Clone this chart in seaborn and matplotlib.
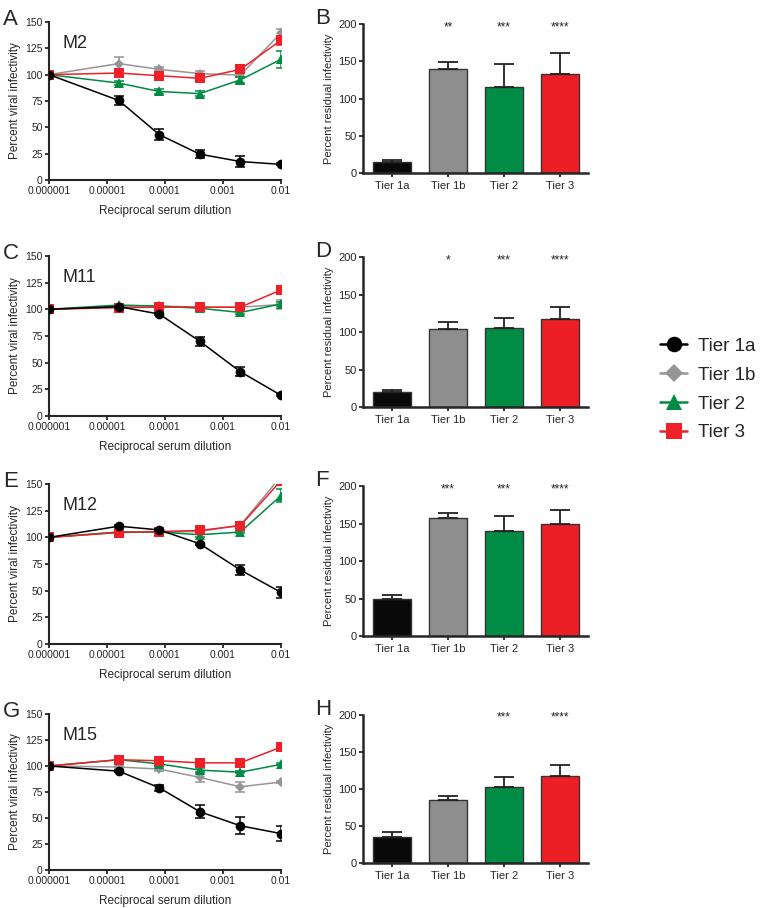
import matplotlib
matplotlib.use("Agg")
import matplotlib.pyplot as plt
from matplotlib.lines import Line2D
import seaborn as sns

sns.set_style("ticks")
plt.rcParams['font.family'] = ['Liberation Sans', 'DejaVu Sans']

# reciprocal serum dilutions (first point = no-serum control)
dilution = [1e-6, 1.6e-5, 8e-5, 4e-4, 2e-3, 1e-2]
tiers = ["Tier 1a", "Tier 1b", "Tier 2", "Tier 3"]

# M2
m2_t1a = [100, 75.5, 43, 24.5, 17.5, 14.8]
m2_t1a_err = [0, 4, 5, 4, 5, 1]
m2_t1b = [100, 110.5, 105, 101, 99.5, 139.5]
m2_t1b_err = [0, 6, 2, 2, 2, 4]
m2_t2 = [100, 92, 84, 82, 95, 114.5]
m2_t2_err = [0, 2, 2, 2, 3, 8]
m2_t3 = [100, 101.5, 99, 96.5, 105, 132.5]
m2_t3_err = [0, 2, 2, 2, 3, 4]

# M11
m11_t1a = [100, 102.5, 95.5, 70, 41.5, 19.5]
m11_t1a_err = [0, 1, 1, 4, 4, 1]
m11_t1b = [100, 103, 103, 102, 102, 104.5]
m11_t1b_err = [0, 1, 1, 1, 1, 4]
m11_t2 = [100, 104, 103, 101, 97, 105]
m11_t2_err = [0, 1, 1, 1, 1, 2]
m11_t3 = [100, 101.5, 102, 102, 102, 118]
m11_t3_err = [0, 1, 1, 1, 1, 2]

# M12 (Tier 1b and Tier 3 end above the axis)
m12_t1a = [100, 110.5, 107, 94, 69.5, 48.5]
m12_t1a_err = [0, 1, 1, 1, 5, 5]
m12_t1b = [100, 105, 105, 105.5, 111.5, 157]
m12_t1b_err = [0, 1, 1, 1, 1, 0]
m12_t2 = [100, 105, 105, 102.5, 105, 139]
m12_t2_err = [0, 1, 1, 2, 1, 6]
m12_t3 = [100, 104.5, 105.5, 106.5, 111, 153]
m12_t3_err = [0, 1, 1, 2, 1, 0]

# M15
m15_t1a = [100, 95, 79, 56, 42.5, 35]
m15_t1a_err = [0, 1, 3, 6, 8, 7]
m15_t1b = [100, 99, 97, 89, 80, 84.5]
m15_t1b_err = [0, 1, 2, 4, 5, 1]
m15_t2 = [100, 106, 102, 96, 94, 101.5]
m15_t2_err = [0, 1, 2, 2, 1, 1]
m15_t3 = [100, 106, 105, 103, 103, 118]
m15_t3_err = [0, 1, 1, 1, 1, 1]

# residual infectivity bars
b_vals = [14.5, 139.5, 115, 132.5]
b_err = [3.5, 9.5, 32, 28]
b_stars = ["", "**", "***", "****"]
d_vals = [19.5, 104, 105.5, 117.5]
d_err = [3.5, 10, 13.5, 16]
d_stars = ["", "*", "***", "****"]
f_vals = [49, 157.5, 140, 150]
f_err = [6, 7, 20, 17.5]
f_stars = ["", "***", "***", "****"]
h_vals = [34.5, 84.5, 102, 118]
h_err = [7, 6.5, 14, 14.5]
h_stars = ["", "", "***", "****"]

line_colors = ["#000000", "#959595", "#008a43", "#ee2028"]
bar_colors = ["#0a0a0a", "#8e8e8e", "#008c45", "#ec1f27"]
markers = ["o", "D", "^", "s"]
msizes = [7, 5.5, 7, 7]

fig = plt.figure(figsize=(7.6, 9.08), dpi=100)

left_boxes = [(0.0645, 0.8018, 0.305, 0.174), (0.0645, 0.5419, 0.305, 0.1762),
              (0.0645, 0.2907, 0.305, 0.1762), (0.0645, 0.0419, 0.305, 0.1718)]
right_boxes = [(0.4776, 0.8095, 0.296, 0.164), (0.4776, 0.5518, 0.296, 0.165),
               (0.4776, 0.2996, 0.296, 0.165), (0.4776, 0.0496, 0.296, 0.163)]

curves = [
    ("M2", [m2_t1a, m2_t1b, m2_t2, m2_t3], [m2_t1a_err, m2_t1b_err, m2_t2_err, m2_t3_err]),
    ("M11", [m11_t1a, m11_t1b, m11_t2, m11_t3], [m11_t1a_err, m11_t1b_err, m11_t2_err, m11_t3_err]),
    ("M12", [m12_t1a, m12_t1b, m12_t2, m12_t3], [m12_t1a_err, m12_t1b_err, m12_t2_err, m12_t3_err]),
    ("M15", [m15_t1a, m15_t1b, m15_t2, m15_t3], [m15_t1a_err, m15_t1b_err, m15_t2_err, m15_t3_err]),
]
bars = [(b_vals, b_err, b_stars), (d_vals, d_err, d_stars),
        (f_vals, f_err, f_stars), (h_vals, h_err, h_stars)]
left_letters = ["A", "C", "E", "G"]
right_letters = ["B", "D", "F", "H"]

tick_fs = 7.5
label_fs = 8.5

for k in range(4):
    # dose-response panel
    ax = fig.add_axes(left_boxes[k])
    name, series, errs = curves[k]
    order = [1, 2, 3, 0]  # black drawn on top
    for i in order:
        sns.lineplot(x=dilution, y=series[i], ax=ax, color=line_colors[i], marker=markers[i],
                     markersize=msizes[i], markeredgewidth=0, linewidth=1.1, zorder=3 + (i == 0))
        ax.errorbar(dilution, series[i], yerr=errs[i], fmt="none", ecolor=line_colors[i],
                    elinewidth=1.1, capsize=3.5, capthick=1.1, zorder=3 + (i == 0))
    ax.set_xscale("log")
    ax.set_xlim(1e-6, 1e-2)
    ax.set_ylim(0, 150)
    ax.set_xticks([1e-6, 1e-5, 1e-4, 1e-3, 1e-2])
    ax.set_xticklabels(["0.000001", "0.00001", "0.0001", "0.001", "0.01"])
    ax.minorticks_off()
    ax.set_yticks([0, 25, 50, 75, 100, 125, 150])
    ax.tick_params(labelsize=tick_fs, width=1.3, length=3, pad=1.5)
    for s in ["left", "bottom"]:
        ax.spines[s].set_linewidth(1.5)
    sns.despine(ax=ax)
    ax.set_xlabel("Reciprocal serum dilution", fontsize=label_fs, labelpad=6)
    ax.set_ylabel("Percent viral infectivity", fontsize=label_fs, labelpad=3)
    ax.text(0.06, 0.865, name, transform=ax.transAxes, fontsize=13, va="center")
    fig.text(0.004, left_boxes[k][1] + left_boxes[k][3] + 0.003, left_letters[k],
             fontsize=16, va="center")

    # residual infectivity bar panel
    bx = fig.add_axes(right_boxes[k])
    vals, err, stars = bars[k]
    sns.barplot(x=tiers, y=vals, hue=tiers, palette=bar_colors, legend=False, ax=bx,
                width=0.68, edgecolor="#333333", linewidth=1.0, saturation=1)
    bx.errorbar(range(4), vals, yerr=[[0] * 4, err], fmt="none", ecolor="#222222",
                elinewidth=1.3, capsize=7, capthick=1.3)
    for i in range(4):
        if stars[i]:
            bx.text(i, 196, stars[i], ha="center", va="center", fontsize=8.5)
    bx.set_xlim(-0.52, 3.5)
    bx.set_ylim(0, 200)
    bx.set_yticks([0, 50, 100, 150, 200])
    bx.tick_params(labelsize=tick_fs + 0.5, width=1.3, length=3, pad=1.5)
    bx.tick_params(axis="x", labelsize=tick_fs + 0.5, pad=3)
    for s in ["left", "bottom"]:
        bx.spines[s].set_linewidth(1.8)
    sns.despine(ax=bx)
    bx.set_xlabel("")
    bx.set_ylabel("Percent residual infectivity", fontsize=label_fs - 0.5, labelpad=3)
    fig.text(0.415, right_boxes[k][1] + right_boxes[k][3] + 0.006, right_letters[k],
             fontsize=16, va="center")

handles = [Line2D([0], [0], color=line_colors[i], marker=markers[i], linewidth=1.8,
                  markersize=msizes[i] * 1.6, markeredgewidth=0) for i in range(4)]
fig.legend(handles, tiers, loc="upper left", bbox_to_anchor=(0.864, 0.632), frameon=False,
           fontsize=13.5, handlelength=1.4, labelspacing=0.62, handletextpad=0.6,
           borderpad=0.2, borderaxespad=0)

fig.savefig("out.png", dpi=100)
